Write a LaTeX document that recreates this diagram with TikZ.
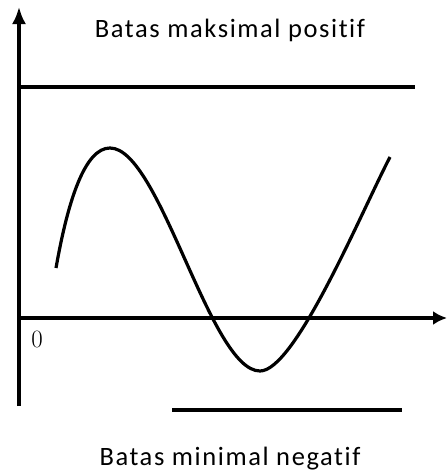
\documentclass[tikz,border=0pt]{standalone}
\usepackage{fontspec}
\newfontfamily\labelfont[LetterSpace=6,Ligatures={NoCommon}]{Carlito}
\usetikzlibrary{arrows.meta}

\begin{document}
\begin{tikzpicture}[x=1pt,y=-1pt,line width=3.2pt,
    limit/.style={font=\labelfont\fontsize{26.5}{30}\selectfont,anchor=base}]
   \useasboundingbox (0,0) rectangle (447,471);
   \coordinate (o) at (19,318);
   \coordinate (ytop) at (19,7);
   \coordinate (ybot) at (19,406);
   \coordinate (xend) at (447,318);
   % axes
   \draw[-{Latex[length=17pt,width=14pt]}] (ybot) -- (ytop);
   \draw[-{Latex[length=14pt,width=14pt]}] (o) -- (xend);
   \node (zero) at (37,339) {\fontsize{28}{30}\selectfont$0$};
   % batas
   \coordinate (maxa) at (19,87);
   \coordinate (maxb) at (415,87);
   \coordinate (mina) at (172,410);
   \coordinate (minb) at (402,410);
   \draw (maxa) -- (maxb);
   \draw (mina) -- (minb);
   \node[limit] (maxlabel) at (230,37) {Batas maksimal positif};
   \node[limit] (minlabel) at (230,465) {Batas minimal negatif};
   % gelombang
   \coordinate (start) at (56,268);
   \coordinate (peak) at (110,148);
   \coordinate (trough) at (260,371);
   \coordinate (finish) at (390,157);
   \draw (start) .. controls (68,200) and (85,148) .. (peak)
         .. controls (160,148) and (210,371) .. (trough)
         .. controls (295,371) and (360,215) .. (finish);
  \end{tikzpicture}
\end{document}
